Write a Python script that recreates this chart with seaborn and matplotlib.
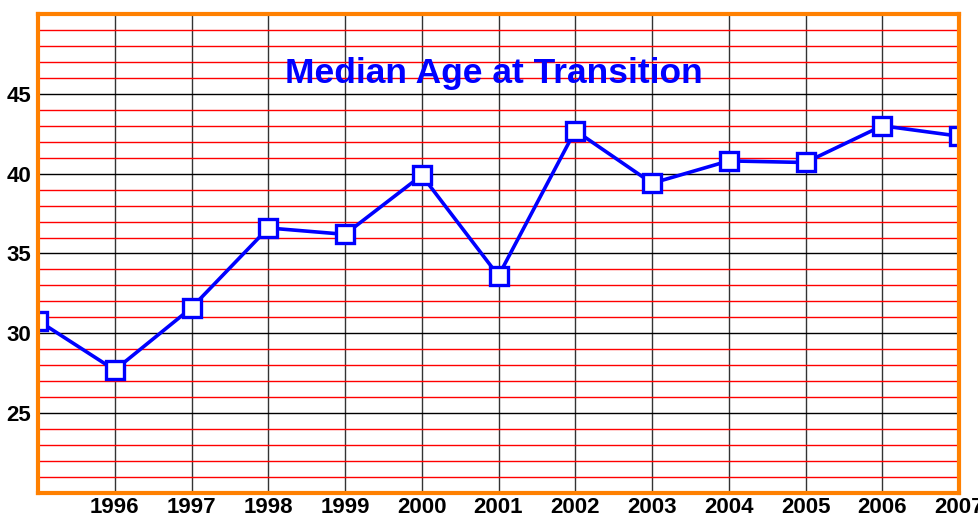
import matplotlib
matplotlib.use('Agg')
import matplotlib.pyplot as plt
import seaborn as sns
import pandas as pd
from matplotlib.ticker import MultipleLocator

sns.set_style('white')
plt.rcParams['font.family'] = ['Liberation Sans Narrow', 'Liberation Sans', 'DejaVu Sans']

# Datos
years = [1995, 1996, 1997, 1998, 1999, 2000, 2001, 2002, 2003, 2004, 2005, 2006, 2007]
median_age = [30.8, 27.7, 31.6, 36.6, 36.2, 39.9, 33.6, 42.7, 39.4, 40.8, 40.7, 43.0, 42.35]
tick_years = [1996, 1997, 1998, 1999, 2000, 2001, 2002, 2003, 2004, 2005, 2006, 2007]
tick_ages = [25, 30, 35, 40, 45]

df = pd.DataFrame({'year': years, 'age': median_age})

fig = plt.figure(figsize=(9.79, 5.2), dpi=100)
ax = fig.add_axes([38 / 979, 1 - 493 / 520, 921 / 979, 479 / 520])

ax.set_xlim(1995, 2007)
ax.set_ylim(20, 50)

# rejilla: rojas cada 1, negras cada 5
ax.yaxis.set_minor_locator(MultipleLocator(1))
ax.grid(which='minor', axis='y', color='red', linewidth=1)
ax.grid(which='major', axis='y', color='black', linewidth=1)
ax.grid(which='major', axis='x', color='#333333', linewidth=1)
ax.set_axisbelow(True)

sns.lineplot(data=df, x='year', y='age', ax=ax, color='#0000ff', linewidth=2.6,
             marker='s', markersize=13.5, markerfacecolor='white',
             markeredgecolor='#0000ff', markeredgewidth=2.4)

ax.set_xticks(tick_years)
ax.set_xticklabels([str(y) for y in tick_years])
ax.set_yticks(tick_ages)
ax.tick_params(axis='both', which='both', length=0, labelsize=16, labelcolor='black')
ax.tick_params(axis='x', pad=3)
ax.tick_params(axis='y', pad=5)
for lab in ax.get_xticklabels() + ax.get_yticklabels():
    lab.set_fontweight('bold')
ax.set_xlabel('')
ax.set_ylabel('')

for sp in ax.spines.values():
    sp.set_color('#ff8000')
    sp.set_linewidth(3)
    sp.set_zorder(5)

ax.text(0.495, 0.875, 'Median Age at Transition', transform=ax.transAxes,
        ha='center', va='center', color='#0000ff', fontsize=25.5, fontweight='bold',
        family=['Liberation Sans', 'DejaVu Sans'])

fig.savefig('out.png', dpi=100)
